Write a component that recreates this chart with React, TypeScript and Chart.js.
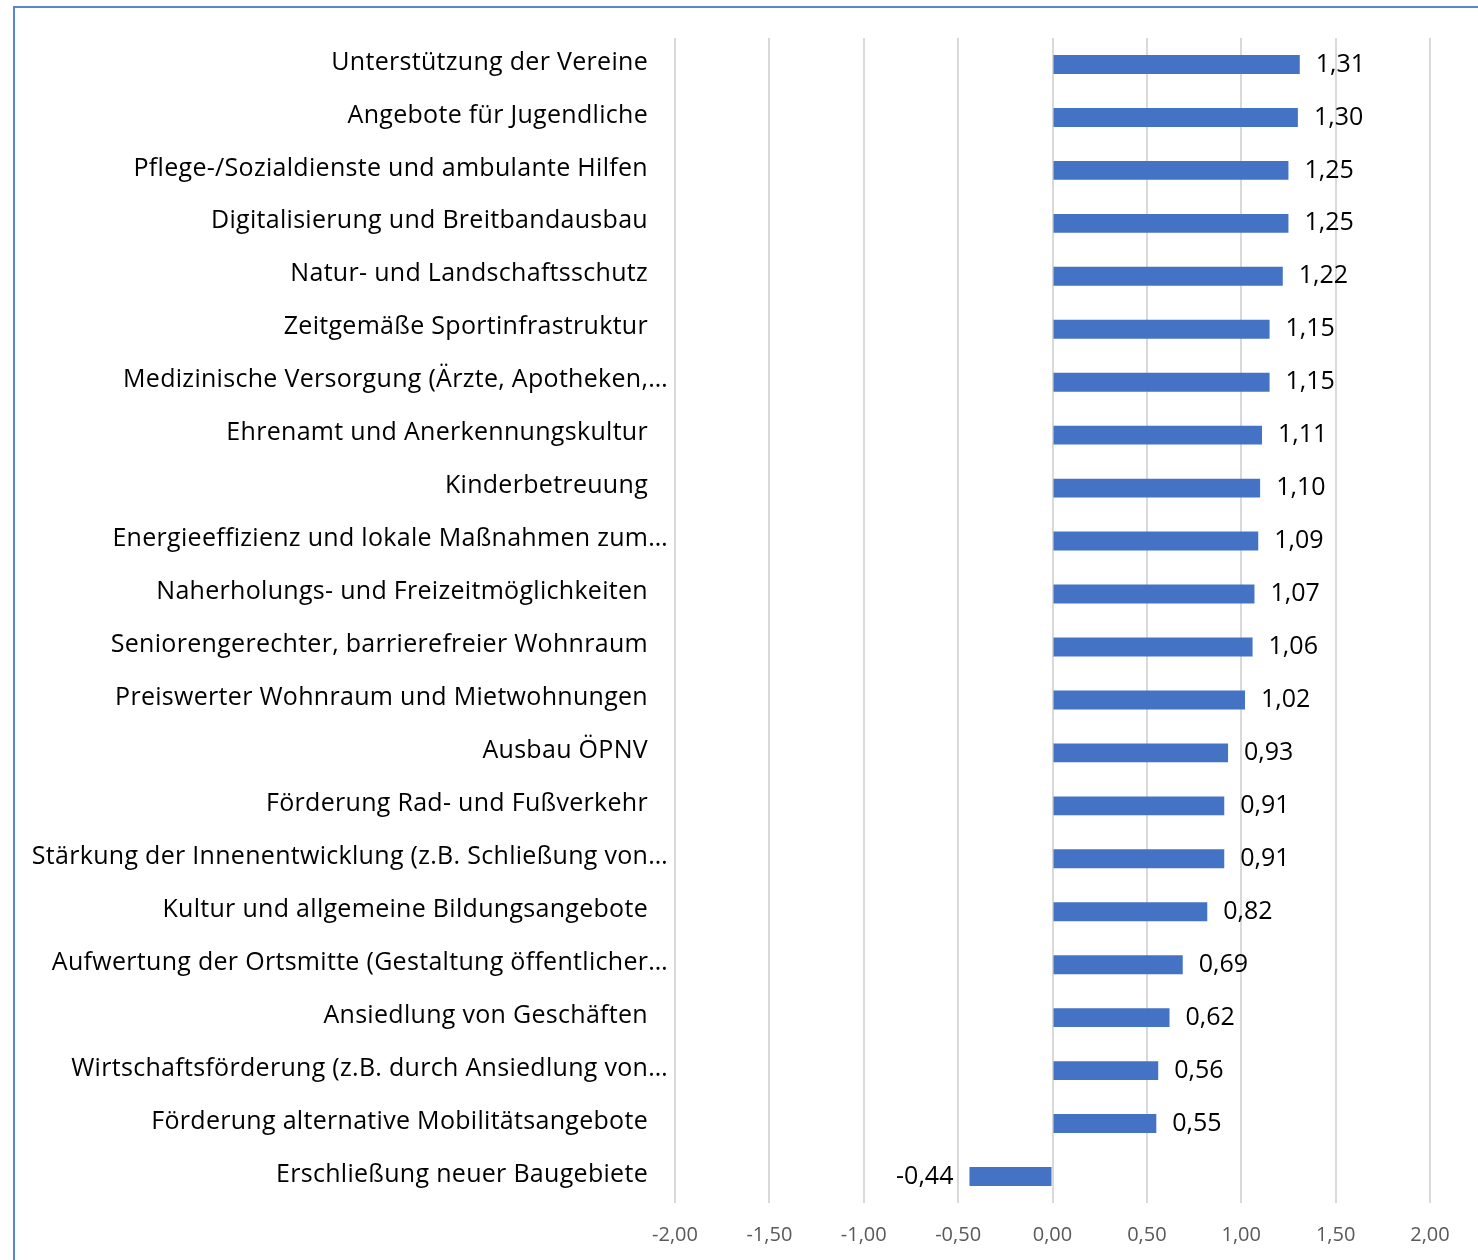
import React, { useEffect, useRef } from "react";
import { Chart, registerables } from "chart.js";

Chart.register(...registerables);

const categories: string[] = [
  "Unterstützung der Vereine",
  "Angebote für Jugendliche",
  "Pflege-/Sozialdienste und ambulante Hilfen",
  "Digitalisierung und Breitbandausbau",
  "Natur- und Landschaftsschutz",
  "Zeitgemäße Sportinfrastruktur",
  "Medizinische Versorgung (Ärzte, Apotheken,…",
  "Ehrenamt und Anerkennungskultur",
  "Kinderbetreuung",
  "Energieeffizienz und lokale Maßnahmen zum…",
  "Naherholungs- und Freizeitmöglichkeiten",
  "Seniorengerechter, barrierefreier Wohnraum",
  "Preiswerter Wohnraum und Mietwohnungen",
  "Ausbau ÖPNV",
  "Förderung Rad- und Fußverkehr",
  "Stärkung der Innenentwicklung (z.B. Schließung von…",
  "Kultur und allgemeine Bildungsangebote",
  "Aufwertung der Ortsmitte (Gestaltung öffentlicher…",
  "Ansiedlung von Geschäften",
  "Wirtschaftsförderung (z.B. durch Ansiedlung von…",
  "Förderung alternative Mobilitätsangebote",
  "Erschließung neuer Baugebiete",
];

const values: number[] = [
  1.31, 1.3, 1.25, 1.25, 1.22, 1.15, 1.15, 1.11, 1.1, 1.09, 1.07, 1.06, 1.02,
  0.93, 0.91, 0.91, 0.82, 0.69, 0.62, 0.56, 0.55, -0.44,
];

const xMin = -2;
const xMax = 2;
const xStep = 0.5;

const fmt = (v: number) => v.toFixed(2).replace(".", ",");

const LABEL_FONT = "25px 'Open Sans', sans-serif";

const yLabelPlugin = {
  id: "yLabels",
  afterDraw(chart: any) {
    const ctx = chart.ctx;
    const yScale = chart.scales.y;
    const left = chart.chartArea.left;
    ctx.save();
    ctx.font = LABEL_FONT;
    (ctx as any).letterSpacing = "0.3px";
    ctx.fillStyle = "#000000";
    ctx.textAlign = "right";
    ctx.textBaseline = "middle";
    categories.forEach((lab, i) => {
      const y = yScale.getPixelForTick(i) - 2;
      const truncated = lab.endsWith("…");
      const x = truncated ? left - 7 : left - 27;
      ctx.fillText(lab, x, y);
    });
    (ctx as any).letterSpacing = "0px";
    ctx.restore();
  },
};

const dataLabelPlugin = {
  id: "dataLabels",
  afterDatasetsDraw(chart: any) {
    const ctx = chart.ctx;
    const meta = chart.getDatasetMeta(0);
    ctx.save();
    ctx.font = LABEL_FONT;
    ctx.fillStyle = "#000000";
    ctx.textBaseline = "middle";
    meta.data.forEach((bar: any, i: number) => {
      const v = values[i];
      const txt = fmt(v);
      if (v >= 0) {
        ctx.textAlign = "left";
        ctx.fillText(txt, bar.x + 16, bar.y);
      } else {
        ctx.textAlign = "right";
        ctx.fillText(txt, bar.x - 16, bar.y);
      }
    });
    ctx.restore();
  },
};

export default function App() {
  const ref = useRef<HTMLCanvasElement>(null);

  useEffect(() => {
    if (!ref.current) return;
    const chart = new Chart(ref.current, {
      type: "bar",
      data: {
        labels: categories,
        datasets: [
          {
            data: values,
            backgroundColor: "#4472C4",
            borderWidth: 0,
            barPercentage: 0.7,
            categoryPercentage: 0.51,
          },
        ],
      },
      options: {
        indexAxis: "y",
        animation: false,
        responsive: false,
        maintainAspectRatio: false,
        layout: { padding: { left: 0, right: 48, top: 38, bottom: 0 } },
        plugins: {
          legend: { display: false },
          tooltip: { enabled: false },
          title: { display: false },
        },
        scales: {
          x: {
            min: xMin,
            max: xMax,
            ticks: {
              stepSize: xStep,
              callback: (v: any) => fmt(Number(v)),
              color: "#595959",
              font: { family: "'Open Sans', sans-serif", size: 20 },
              padding: 20,
            },
            grid: { color: "#D9D9D9", lineWidth: 2, drawTicks: false },
            border: { display: false },
            afterFit: (scale: any) => {
              scale.height = 57;
            },
          },
          y: {
            ticks: { display: false },
            grid: { display: false, drawTicks: false },
            border: { display: false },
            afterFit: (scale: any) => {
              scale.width = 675;
            },
          },
        },
      },
      plugins: [yLabelPlugin, dataLabelPlugin],
    });
    return () => chart.destroy();
  }, []);

  return (
    <div style={{ position: "absolute", left: 0, top: 0, width: 1478, height: 1260, background: "#fff" }}>
      <canvas ref={ref} width={1478} height={1260} style={{ display: "block" }} />
      <div
        style={{
          position: "absolute",
          left: 13,
          top: 6,
          width: 1465,
          height: 1254,
          borderLeft: "2px solid #5B84D0",
          borderTop: "2px solid #5B84D0",
          pointerEvents: "none",
        }}
      />
    </div>
  );
}
